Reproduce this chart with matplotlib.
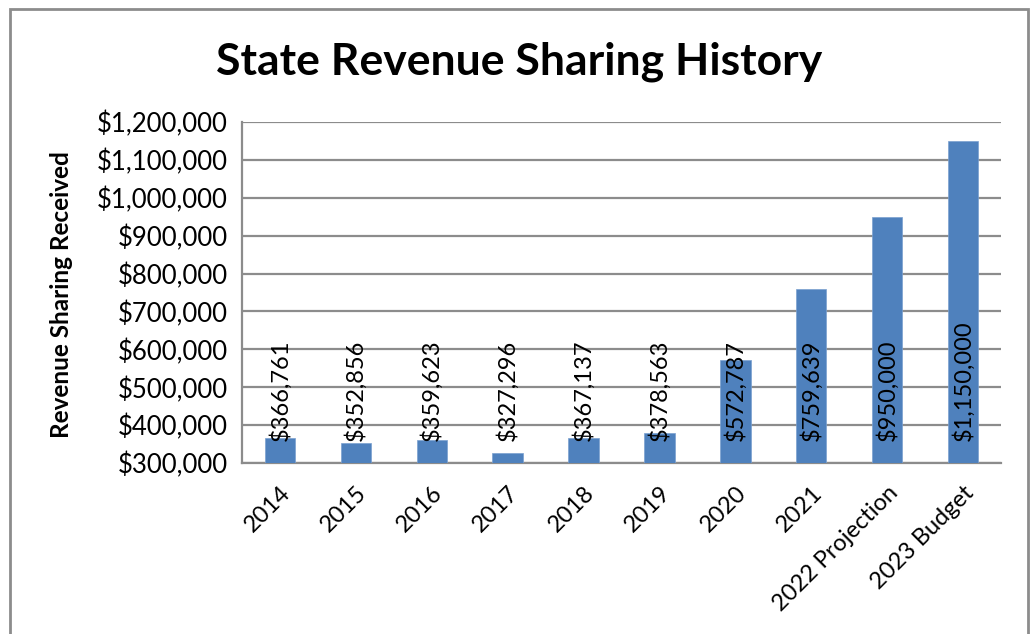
import matplotlib
matplotlib.use("Agg")
import matplotlib.pyplot as plt
from matplotlib.patches import Rectangle
from matplotlib.ticker import FuncFormatter

categories = ["2014", "2015", "2016", "2017", "2018", "2019", "2020", "2021",
              "2022 Projection", "2023 Budget"]
values = [366761, 352856, 359623, 327296, 367137, 378563, 572787, 759639, 950000, 1150000]

W, H = 1034, 634
fig = plt.figure(figsize=(W / 100, H / 100), dpi=100)
plt.rcParams['font.family'] = ['Lato', 'DejaVu Sans']

# outer border
fig.patches.append(Rectangle((10 / W, -0.05), (1028 - 10) / W, (H - 9) / H + 0.05,
                             transform=fig.transFigure, fill=False,
                             edgecolor='#8c8c8c', linewidth=2))

ax = fig.add_axes([242 / W, (H - 463) / H, (1001 - 242) / W, (463 - 122) / H])
x = list(range(len(categories)))
ax.bar(x, values, width=0.4, color='#4f81bd', zorder=3,
       edgecolor='#7aa0d0', linewidth=0.5)
ax.set_xlim(-0.5, len(categories) - 0.5)
ax.set_ylim(300000, 1200000)
ax.set_yticks(range(300000, 1200001, 100000))
ax.yaxis.set_major_formatter(FuncFormatter(lambda v, p: f"${int(v):,}"))
ax.grid(axis='y', color='#8c8c8c', linewidth=1.6, zorder=0)
for s in ['top', 'right']:
    ax.spines[s].set_visible(False)
for s in ['left', 'bottom']:
    ax.spines[s].set_color('#8c8c8c')
    ax.spines[s].set_linewidth(1.6)
ax.tick_params(axis='y', length=0, labelsize=18.5, pad=10)
ax.tick_params(axis='x', length=0, labelsize=17, pad=14)
ax.set_xticks(x)
ax.set_xticklabels(categories, rotation=45, ha='right', va='top',
                   rotation_mode='anchor')

for xi, v in zip(x, values):
    ax.annotate(f"${v:,}", xy=(xi, 300000), xytext=(0, 16),
                textcoords='offset points', rotation=90, ha='center',
                va='bottom', fontsize=17, zorder=4)

fig.text(62 / W, 1 - 295 / H, "Revenue Sharing Received", rotation=90,
         ha='center', va='center', fontsize=17.5, fontweight='bold')
fig.text(519 / W, 1 - 62 / H, "State Revenue Sharing History", ha='center',
         va='center', fontsize=32, fontweight='bold')

fig.savefig("out.png", dpi=100)
